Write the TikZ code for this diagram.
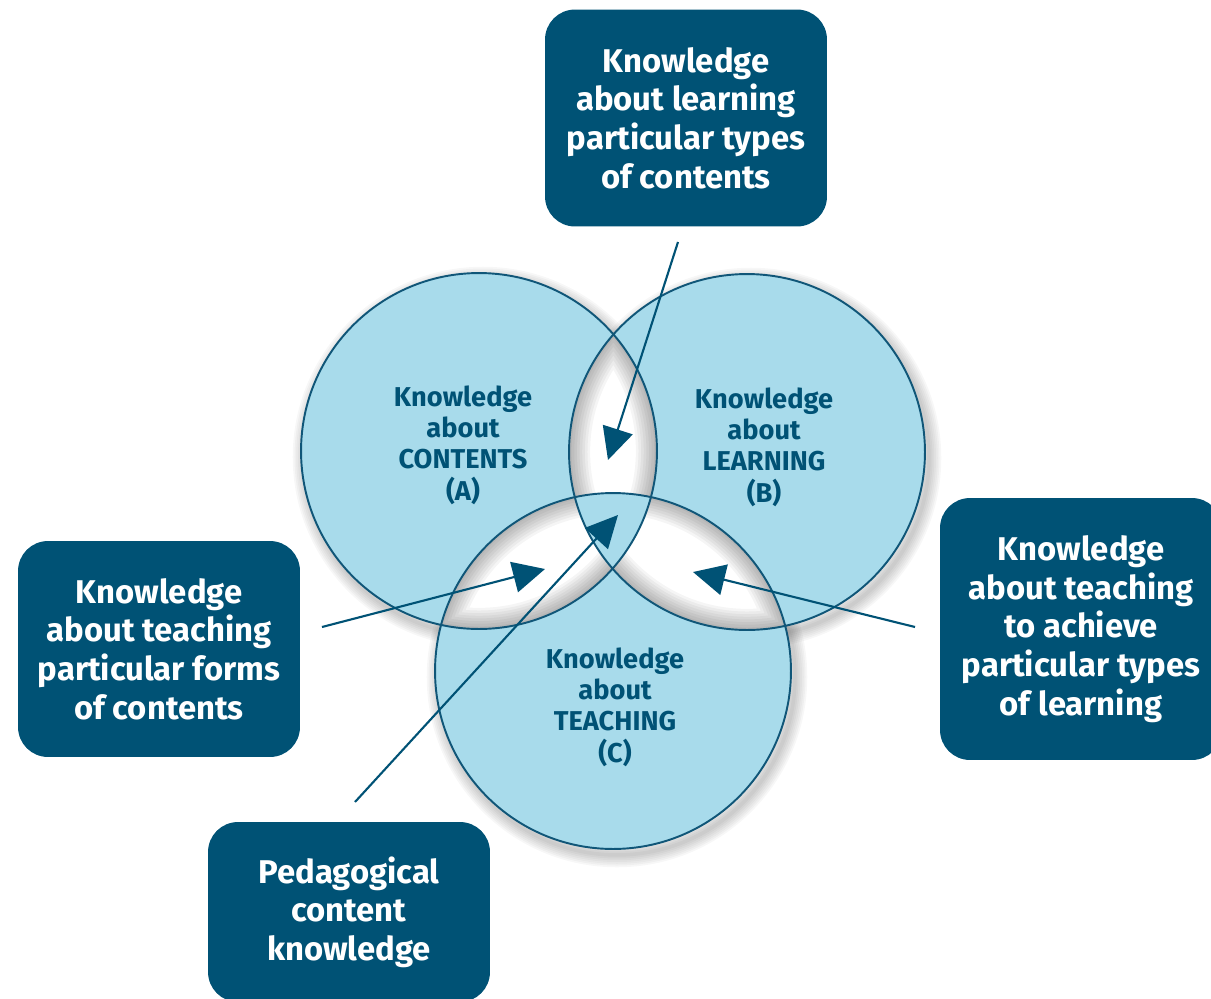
\documentclass[tikz,border=0pt]{standalone}
\usepackage{fontspec}
\setmainfont{Fira Sans}
\usetikzlibrary{arrows.meta,positioning}
\definecolor{boxblue}{RGB}{0,82,117}
\definecolor{circblue}{RGB}{168,219,235}
\definecolor{rimblue}{RGB}{16,86,120}
\tikzset{
  kbox/.style={fill=boxblue,rounded corners=0.6cm,text=white,align=center,
    font=\fontsize{18.7}{22}\selectfont\bfseries,minimum width=5.64cm},
  ktext/.style={text=boxblue,align=center,font=\fontsize{15.5}{17.9}\selectfont\bfseries},
  pointer/.style={draw=boxblue,line width=1.2pt,-{Triangle[length=0.64cm,width=0.62cm]}},
  haze/.style={black,opacity=0.03}
}
\begin{document}
\begin{tikzpicture}[x=0.02cm,y=-0.02cm]
\useasboundingbox (0,0) rectangle (1211,998);
\def\R{3.56cm}
\coordinate (A) at (479,451);
\coordinate (B) at (747,452);
\coordinate (C) at (613,671);
% drop shadows
\foreach \c in {A,B,C}
  \foreach \w in {2,4,...,14}
    \draw[haze,line width=\w pt] ([shift={(4,6)}]\c) circle (\R);
\fill[white] (A) circle (\R) (B) circle (\R) (C) circle (\R);
% shading inside the lenses
\foreach \p/\q in {A/B,A/C,B/C}{
  \begin{scope}
    \clip (\p) circle (\R); \clip (\q) circle (\R);
    \foreach \w in {3,6,...,24}
      \draw[haze,opacity=0.04,line width=\w pt] (\p) circle (\R) (\q) circle (\R);
  \end{scope}}
\fill[circblue,even odd rule] (A) circle (\R) (B) circle (\R) (C) circle (\R);
\draw[rimblue,line width=1.1pt] (A) circle (\R) (B) circle (\R) (C) circle (\R);

\node[ktext] (contents) at (463,445) {Knowledge\\about\\CONTENTS\\(A)};
\node[ktext] (learning) at (764,447) {Knowledge\\about\\LEARNING\\(B)};
\node[ktext] (teaching) at (615,707) {Knowledge\\about\\TEACHING\\(C)};

\node[kbox,minimum height=4.34cm] (types) at (686,118)
  {Knowledge\\about learning\\particular types\\of contents};
\node[kbox,minimum height=4.32cm] (forms) at (159,649)
  {Knowledge\\about teaching\\particular forms\\of contents};
\node[kbox,minimum height=5.24cm] (achieve) at (1081,629)
  {Knowledge\\about teaching\\to achieve\\particular types\\of learning};
\node[kbox,minimum height=3.6cm] (pck) at (349,912)
  {Pedagogical\\content\\knowledge};

\coordinate (types-tail) at (678,242);
\coordinate (types-tip) at (608,460);
\coordinate (forms-tail) at (322,627);
\coordinate (forms-tip) at (545,569);
\coordinate (achieve-tail) at (915,627);
\coordinate (achieve-tip) at (693,572);
\coordinate (pck-tail) at (355,802);
\coordinate (pck-tip) at (618,515);
\draw[pointer] (types-tail) -- (types-tip);
\draw[pointer] (forms-tail) -- (forms-tip);
\draw[pointer] (achieve-tail) -- (achieve-tip);
\draw[pointer] (pck-tail) -- (pck-tip);
\end{tikzpicture}
\end{document}
